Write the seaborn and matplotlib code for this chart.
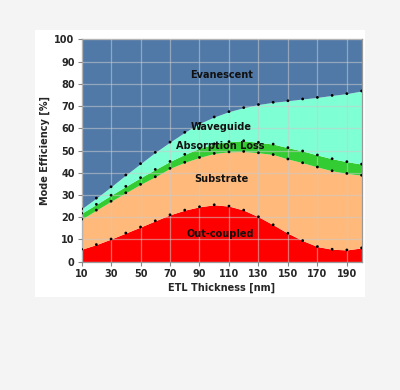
import numpy as np
import pandas as pd
import matplotlib
matplotlib.use("Agg")
import matplotlib.pyplot as plt
import seaborn as sns

# ETL thickness in nm
thickness = [10, 20, 30, 40, 50, 60, 70, 80, 90, 100,
             110, 120, 130, 140, 150, 160, 170, 180, 190, 200]

# mode efficiencies [%] per mode (stacked bottom to top)
out_coupled = [5.6, 7.7, 10.2, 12.9, 15.6, 18.4, 21.1, 23.2, 24.7, 25.6,
               25.0, 23.2, 20.2, 16.6, 12.8, 9.5, 6.8, 5.6, 5.3, 6.2]
substrate = [13.5, 15.5, 17.0, 18.1, 19.2, 19.8, 20.9, 21.5, 22.2, 23.1,
             24.4, 26.4, 28.8, 31.6, 33.4, 35.0, 35.8, 35.3, 34.4, 32.7]
absorption = [2.7, 2.6, 2.7, 2.9, 3.0, 3.3, 3.1, 3.6, 4.1, 4.3,
              4.6, 4.8, 4.7, 4.7, 5.1, 5.3, 5.4, 5.4, 5.3, 5.0]
waveguide = [2.0, 2.8, 3.8, 5.1, 6.3, 7.7, 8.7, 9.9, 11.2, 12.1,
             13.5, 14.9, 17.0, 18.8, 21.1, 23.4, 25.9, 28.5, 30.6, 32.9]
evanescent = [76.2, 71.4, 66.3, 61.0, 55.9, 50.8, 46.2, 41.8, 37.8, 34.9,
              32.5, 30.7, 29.3, 28.3, 27.6, 26.8, 26.1, 25.2, 24.4, 23.2]

modes = ["Out-coupled", "Substrate", "Absorption Loss", "Waveguide", "Evanescent"]
colors = ["#ff0000", "#ffb97b", "#33cc33", "#7fffd4", "#5079a8"]
label_pos = [(104, 12.5), (105, 37.2), (104, 52.2), (105, 60.6), (105, 84)]

df = pd.DataFrame({"thickness": thickness, "Out-coupled": out_coupled,
                   "Substrate": substrate, "Absorption Loss": absorption,
                   "Waveguide": waveguide, "Evanescent": evanescent})

sns.set_style("white")
plt.rcParams["font.family"] = ["DejaVu Sans"]
plt.rcParams["font.weight"] = "bold"

fig = plt.figure(figsize=(4.0, 3.9), dpi=100)
fig.patch.set_facecolor("#f4f4f4")
# white panel behind the chart
panel = plt.Rectangle((0.0875, 0.238), 0.825, 0.685, transform=fig.transFigure,
                      facecolor="white", edgecolor="none", zorder=-5)
fig.add_artist(panel)

ax = fig.add_axes([0.204, 0.329, 0.700, 0.570])
ax.set_zorder(2)

x = df["thickness"].to_numpy()
bottom = np.zeros(len(x))
for mode, color in zip(modes, colors):
    top = bottom + df[mode].to_numpy()
    ax.fill_between(x, bottom, top, color=color, lw=0, zorder=1)
    if mode != "Evanescent":
        sns.scatterplot(x=x, y=top, ax=ax, color="black", s=4,
                        edgecolor="none", zorder=3, legend=False)
    bottom = top

for mode, (lx, ly) in zip(modes, label_pos):
    ax.text(lx, ly, mode, ha="center", va="center", fontsize=7,
            fontweight="bold", color="#111111", zorder=4)

ax.set_xlim(10, 200)
ax.set_ylim(0, 100)
ax.set_xticks(np.arange(10, 200, 20))
ax.set_yticks(np.arange(0, 101, 10))
ax.grid(True, color="#cccccc", alpha=0.55, lw=0.9, zorder=2)
ax.set_axisbelow(False)
ax.tick_params(axis="both", labelsize=7, length=3, width=0.8,
               color="#888888", pad=2, bottom=True, left=True)
for lab in ax.get_xticklabels() + ax.get_yticklabels():
    lab.set_fontweight("bold")
for side in ax.spines:
    ax.spines[side].set_color("#999999")
    ax.spines[side].set_linewidth(0.9)

ax.set_xlabel("ETL Thickness [nm]", fontsize=7, fontweight="bold", labelpad=3)
ax.set_ylabel("Mode Efficiency [%]", fontsize=7, fontweight="bold", labelpad=3)

fig.savefig("out.png", dpi=100, facecolor=fig.get_facecolor())
